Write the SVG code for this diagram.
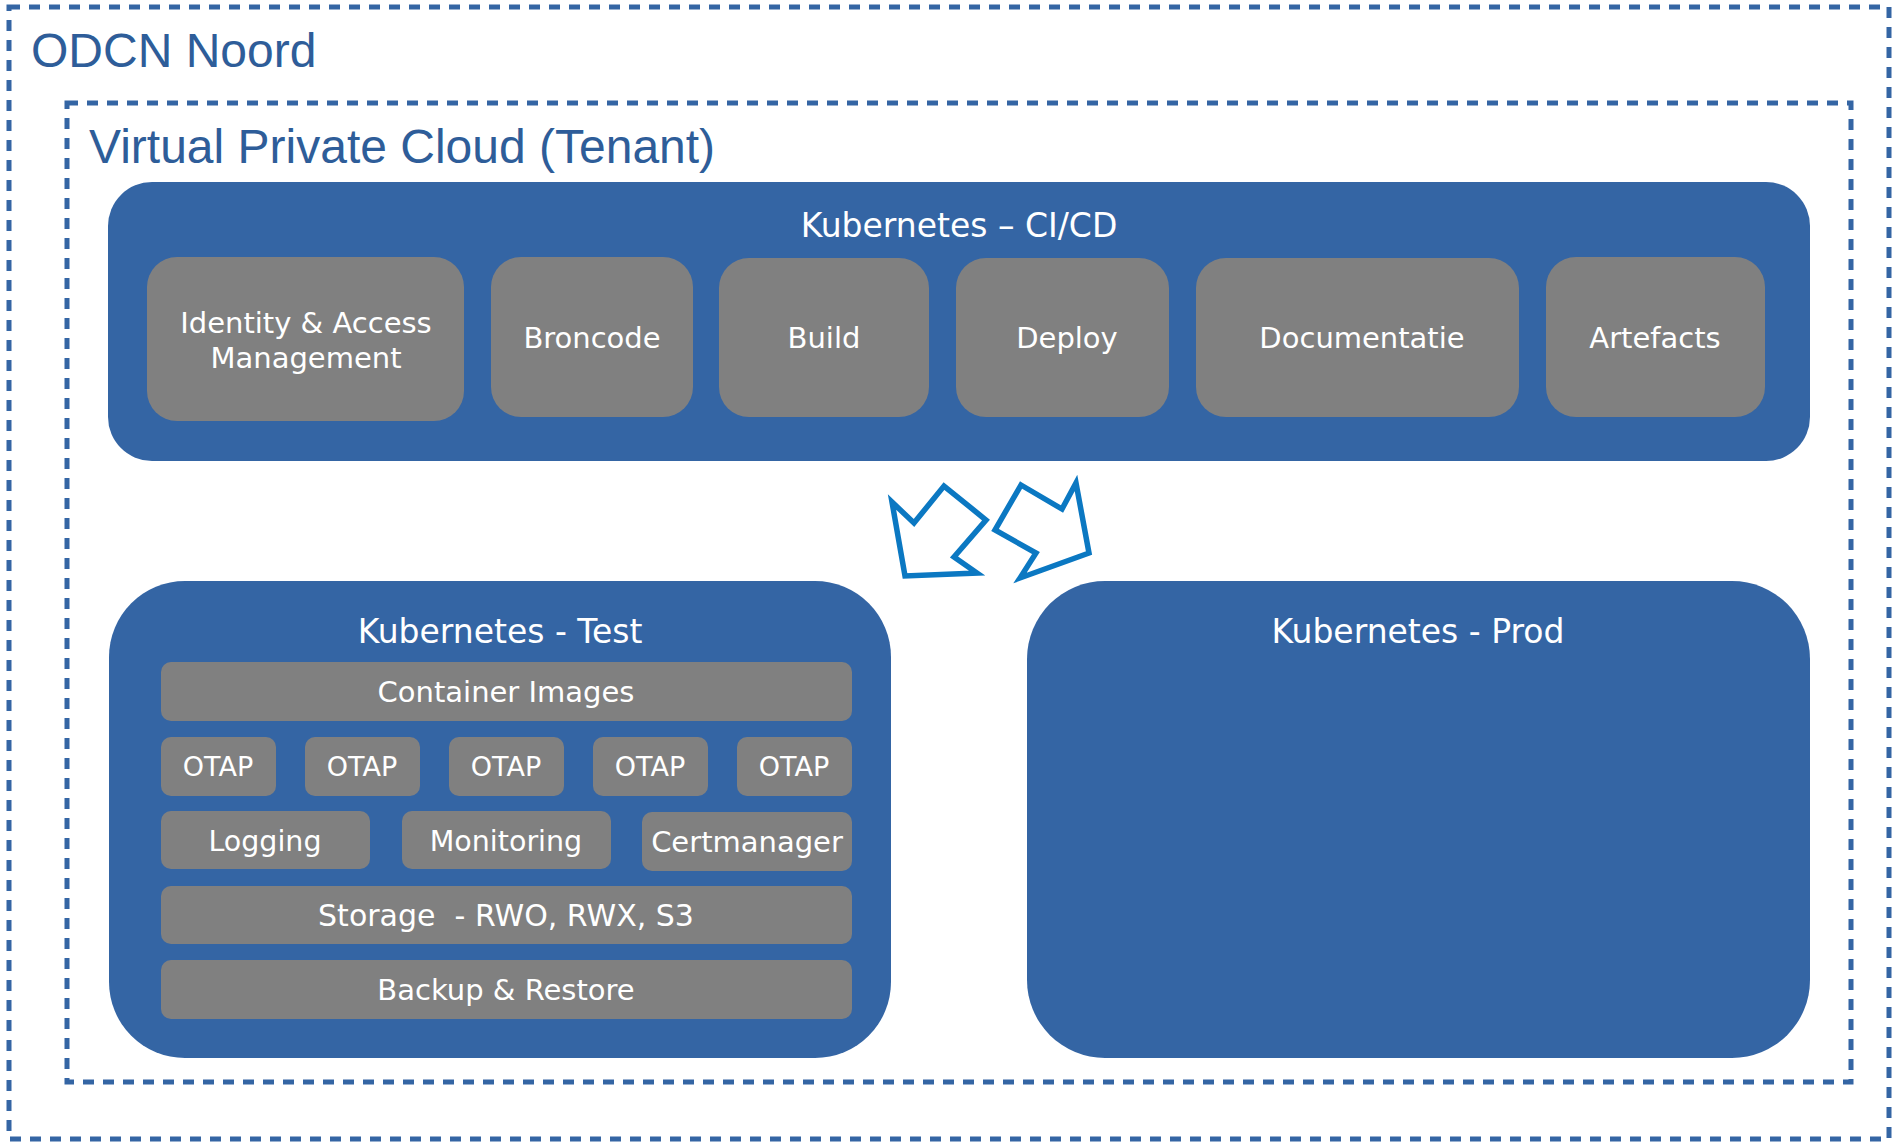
<svg xmlns="http://www.w3.org/2000/svg" width="1895" height="1146" viewBox="0 0 1895 1146">
<style>
.dash{fill:none;stroke:#3465A4;stroke-width:5;stroke-dasharray:11 9}
.title{font-family:"Liberation Sans",Arial,sans-serif;font-size:48px;fill:#2E5D99}
.blue{fill:#3465A4}
.gray{fill:#808080}
.lbl{font-family:"DejaVu Sans",Verdana,sans-serif;font-size:29px;fill:#FFFFFF;text-anchor:middle;white-space:pre}
.hdr{font-family:"DejaVu Sans",Verdana,sans-serif;font-size:33px;fill:#FFFFFF;text-anchor:middle}
.arrow{fill:none;stroke:#0B78C2;stroke-width:5.5;stroke-linejoin:miter}
</style>
<rect width="1895" height="1146" fill="#FFFFFF"/>
<g id="odcn-noord">
<rect class="dash" x="9" y="7" width="1880" height="1132"/>
<text class="title" x="31" y="67">ODCN Noord</text>
</g>
<g id="vpc-tenant">
<rect class="dash" x="67" y="103" width="1784" height="979"/>
<text class="title" x="89" y="163">Virtual Private Cloud (Tenant)</text>
</g>
<g id="k8s-cicd">
<rect class="blue" x="108" y="182" width="1702" height="279" rx="44" ry="44"/>
<text class="hdr" x="959" y="237">Kubernetes – CI/CD</text>
</g>
<g id="iam">
<rect class="gray" x="147" y="257" width="317" height="164" rx="30" ry="30"/>
<text class="lbl" x="306" y="333">Identity &amp; Access</text>
<text class="lbl" x="306" y="368">Management</text>
</g>
<g id="broncode">
<rect class="gray" x="491" y="257" width="202" height="160" rx="30" ry="30"/>
<text class="lbl" x="592" y="348">Broncode</text>
</g>
<g id="build">
<rect class="gray" x="719" y="258" width="210" height="159" rx="30" ry="30"/>
<text class="lbl" x="824" y="348">Build</text>
</g>
<g id="deploy">
<rect class="gray" x="956" y="258" width="213" height="159" rx="30" ry="30"/>
<text class="lbl" x="1067" y="348">Deploy</text>
</g>
<g id="documentatie">
<rect class="gray" x="1196" y="258" width="323" height="159" rx="30" ry="30"/>
<text class="lbl" x="1362" y="348">Documentatie</text>
</g>
<g id="artefacts">
<rect class="gray" x="1546" y="257" width="219" height="160" rx="30" ry="30"/>
<text class="lbl" x="1655" y="348">Artefacts</text>
</g>
<g id="connectors">
<polygon class="arrow" points="892,502 914,523 944,486 986,520 954,557 977,573 905,576"/>
<polygon class="arrow" points="1021,485 1062,509 1076,483 1089,553 1020,578 1036,553 995,530"/>
</g>
<g id="k8s-test">
<rect class="blue" x="109" y="581" width="782" height="477" rx="76" ry="76"/>
<text class="hdr" x="500" y="643">Kubernetes - Test</text>
</g>
<g id="container-images">
<rect class="gray" x="161" y="662" width="691" height="59" rx="10" ry="10"/>
<text class="lbl" x="506" y="702">Container Images</text>
</g>
<g id="otap-1">
<rect class="gray" x="161" y="737" width="115" height="59" rx="10" ry="10"/>
<text class="lbl" x="218" y="776" style="font-size:27px">OTAP</text>
</g>
<g id="otap-2">
<rect class="gray" x="305" y="737" width="115" height="59" rx="10" ry="10"/>
<text class="lbl" x="362" y="776" style="font-size:27px">OTAP</text>
</g>
<g id="otap-3">
<rect class="gray" x="449" y="737" width="115" height="59" rx="10" ry="10"/>
<text class="lbl" x="506" y="776" style="font-size:27px">OTAP</text>
</g>
<g id="otap-4">
<rect class="gray" x="593" y="737" width="115" height="59" rx="10" ry="10"/>
<text class="lbl" x="650" y="776" style="font-size:27px">OTAP</text>
</g>
<g id="otap-5">
<rect class="gray" x="737" y="737" width="115" height="59" rx="10" ry="10"/>
<text class="lbl" x="794" y="776" style="font-size:27px">OTAP</text>
</g>
<g id="logging">
<rect class="gray" x="161" y="811" width="209" height="58" rx="10" ry="10"/>
<text class="lbl" x="265" y="851" style="font-size:28.5px">Logging</text>
</g>
<g id="monitoring">
<rect class="gray" x="402" y="811" width="209" height="58" rx="10" ry="10"/>
<text class="lbl" x="506" y="851" style="font-size:28.5px">Monitoring</text>
</g>
<g id="certmanager">
<rect class="gray" x="642" y="812" width="210" height="59" rx="10" ry="10"/>
<text class="lbl" x="747" y="852">Certmanager</text>
</g>
<g id="storage">
<rect class="gray" x="161" y="886" width="691" height="58" rx="10" ry="10"/>
<text class="lbl" x="506" y="926" style="font-size:30px">Storage  - RWO, RWX, S3</text>
</g>
<g id="backup-restore">
<rect class="gray" x="161" y="960" width="691" height="59" rx="10" ry="10"/>
<text class="lbl" x="506" y="1000">Backup &amp; Restore</text>
</g>
<g id="k8s-prod">
<rect class="blue" x="1027" y="581" width="783" height="477" rx="78" ry="78"/>
<text class="hdr" x="1418" y="643">Kubernetes - Prod</text>
</g>
</svg>
